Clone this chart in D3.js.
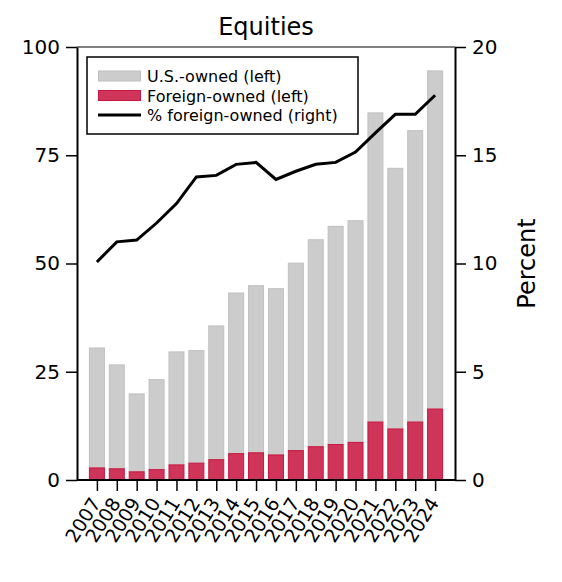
<!DOCTYPE html>
<html>
<head>
<meta charset="utf-8">
<script src="https://cdn.jsdelivr.net/npm/d3@7"></script>
<style>
  body { margin: 0; background: #fff; }
  svg { font-family: 'DejaVu Sans', sans-serif; }
</style>
</head>
<body>
<div id="chart"></div>
<script>
// === Equities: U.S.- vs foreign-owned (D3.js) ===

const years = [2007, 2008, 2009, 2010, 2011, 2012, 2013, 2014, 2015, 2016, 2017, 2018, 2019, 2020, 2021, 2022, 2023, 2024];
// totals, foreign part stacked at the bottom
const totalOwned = [30.6, 26.7, 20.0, 23.3, 29.7, 30.0, 35.7, 43.3, 45.0, 44.3, 50.2, 55.6, 58.7, 60.0, 84.9, 72.1, 80.8, 94.6];
const foreignOwned = [2.9, 2.7, 2.0, 2.5, 3.6, 4.0, 4.8, 6.2, 6.4, 5.9, 6.9, 7.8, 8.3, 8.8, 13.5, 11.9, 13.5, 16.5];
const usOwned = totalOwned.map((t, i) => +(t - foreignOwned[i]).toFixed(1));
const pctForeign = [10.07, 11.0, 11.08, 11.87, 12.77, 14.0, 14.07, 14.58, 14.67, 13.88, 14.26, 14.58, 14.67, 15.15, 16.03, 16.89, 16.89, 17.77];

const leftTicks = [0, 25, 50, 75, 100];
const rightTicks = [0, 5, 10, 15, 20];
const legendItems = ['U.S.-owned (left)', 'Foreign-owned (left)', '% foreign-owned (right)'];

const WIDTH = 562;
const HEIGHT = 582;
const MARGIN = { top: 47, right: 107, bottom: 102, left: 77 };
const GRAY = '#cccccc';
const GRAY_EDGE = '#c0c0c0';
const RED = '#cf3558';
const RED_EDGE = '#c8163f';
const BAR_W = 16;

const svg = d3.select('#chart')
  .append('svg')
  .attr('width', WIDTH)
  .attr('height', HEIGHT);

const x = d3.scaleLinear()
  .domain([2006, 2025])
  .range([MARGIN.left, WIDTH - MARGIN.right]);
const yLeft = d3.scaleLinear()
  .domain([0, 100])
  .range([HEIGHT - MARGIN.bottom, MARGIN.top]);
const yRight = d3.scaleLinear()
  .domain([0, 20])
  .range([HEIGHT - MARGIN.bottom, MARGIN.top]);

// Top frame line (thin)
svg.append('line')
  .attr('x1', x(2006)).attr('x2', x(2025))
  .attr('y1', yLeft(100)).attr('y2', yLeft(100))
  .attr('stroke', '#000').attr('stroke-width', 1);

// Bars: foreign at the bottom, U.S.-owned stacked on top
const bars = svg.append('g').attr('class', 'bars');
years.forEach((yr, i) => {
  bars.append('rect')
    .attr('x', x(yr) - BAR_W / 2 + 0.5)
    .attr('y', yLeft(foreignOwned[i] + usOwned[i]) + 0.5)
    .attr('width', BAR_W - 1)
    .attr('height', yLeft(foreignOwned[i]) - yLeft(foreignOwned[i] + usOwned[i]))
    .attr('fill', GRAY).attr('stroke', GRAY_EDGE).attr('stroke-width', 1);
  bars.append('rect')
    .attr('x', x(yr) - BAR_W / 2 + 0.5)
    .attr('y', yLeft(foreignOwned[i]) + 0.5)
    .attr('width', BAR_W - 1)
    .attr('height', yLeft(0) - yLeft(foreignOwned[i]) - 1)
    .attr('fill', RED).attr('stroke', RED_EDGE).attr('stroke-width', 1);
});

// Percent line (right axis)
const line = d3.line()
  .x((d, i) => x(years[i]))
  .y(d => yRight(d));
svg.append('path')
  .datum(pctForeign)
  .attr('d', line)
  .attr('fill', 'none')
  .attr('stroke', '#000')
  .attr('stroke-width', 3)
  .attr('stroke-linejoin', 'miter');

// Axes
function styleAxis(g) {
  g.select('.domain').attr('stroke-width', 2);
  g.selectAll('.tick line').attr('stroke-width', 1.5);
  g.selectAll('.tick text').attr('font-size', '20px').attr('fill', '#000')
    .style('font-family', 'DejaVu Sans, sans-serif');
}

svg.append('g')
  .attr('transform', `translate(${MARGIN.left},0)`)
  .call(d3.axisLeft(yLeft).tickValues(leftTicks).tickSize(11).tickSizeOuter(0).tickPadding(6))
  .call(styleAxis);

svg.append('g')
  .attr('transform', `translate(${WIDTH - MARGIN.right},0)`)
  .call(d3.axisRight(yRight).tickValues(rightTicks).tickSize(11).tickSizeOuter(0).tickPadding(6))
  .call(styleAxis);

const xAxis = svg.append('g')
  .attr('transform', `translate(0,${HEIGHT - MARGIN.bottom})`)
  .call(d3.axisBottom(x).tickValues(years).tickFormat(d3.format('d')).tickSize(11).tickSizeOuter(0))
  .call(styleAxis);
xAxis.select('.domain').attr('d', `M${x(2006)},0H${x(2025)}`);
xAxis.selectAll('.tick text')
  .attr('text-anchor', 'end')
  .attr('dy', null)
  .attr('y', 0)
  .attr('transform', 'translate(4,23) rotate(-58)')
  .attr('font-size', '19px');

// Title and right axis label
svg.append('text')
  .attr('x', (x(2006) + x(2025)) / 2).attr('y', 35)
  .attr('text-anchor', 'middle')
  .attr('font-size', '24px')
  .text('Equities');

svg.append('text')
  .attr('transform', `translate(535,${(yRight(0) + yRight(20)) / 2}) rotate(-90)`)
  .attr('text-anchor', 'middle')
  .attr('font-size', '24px')
  .text('Percent');

// Legend
const legend = svg.append('g').attr('class', 'legend');
legend.append('rect')
  .attr('x', 87).attr('y', 57)
  .attr('width', 271).attr('height', 77)
  .attr('fill', '#fff').attr('stroke', '#000').attr('stroke-width', 1.5);

legendItems.forEach((label, i) => {
  const cy = 76 + i * 19.5;
  if (i < 2) {
    legend.append('rect')
      .attr('x', 98.5).attr('y', cy - 5)
      .attr('width', 42).attr('height', 10)
      .attr('fill', i === 0 ? GRAY : RED)
      .attr('stroke', i === 0 ? GRAY_EDGE : RED_EDGE)
      .attr('stroke-width', 1);
  } else {
    legend.append('line')
      .attr('x1', 98).attr('x2', 141)
      .attr('y1', cy).attr('y2', cy)
      .attr('stroke', '#000').attr('stroke-width', 3);
  }
  legend.append('text')
    .attr('x', 147).attr('y', cy + 6)
    .attr('font-size', '16px')
    .text(label);
});
</script>
</body>
</html>
